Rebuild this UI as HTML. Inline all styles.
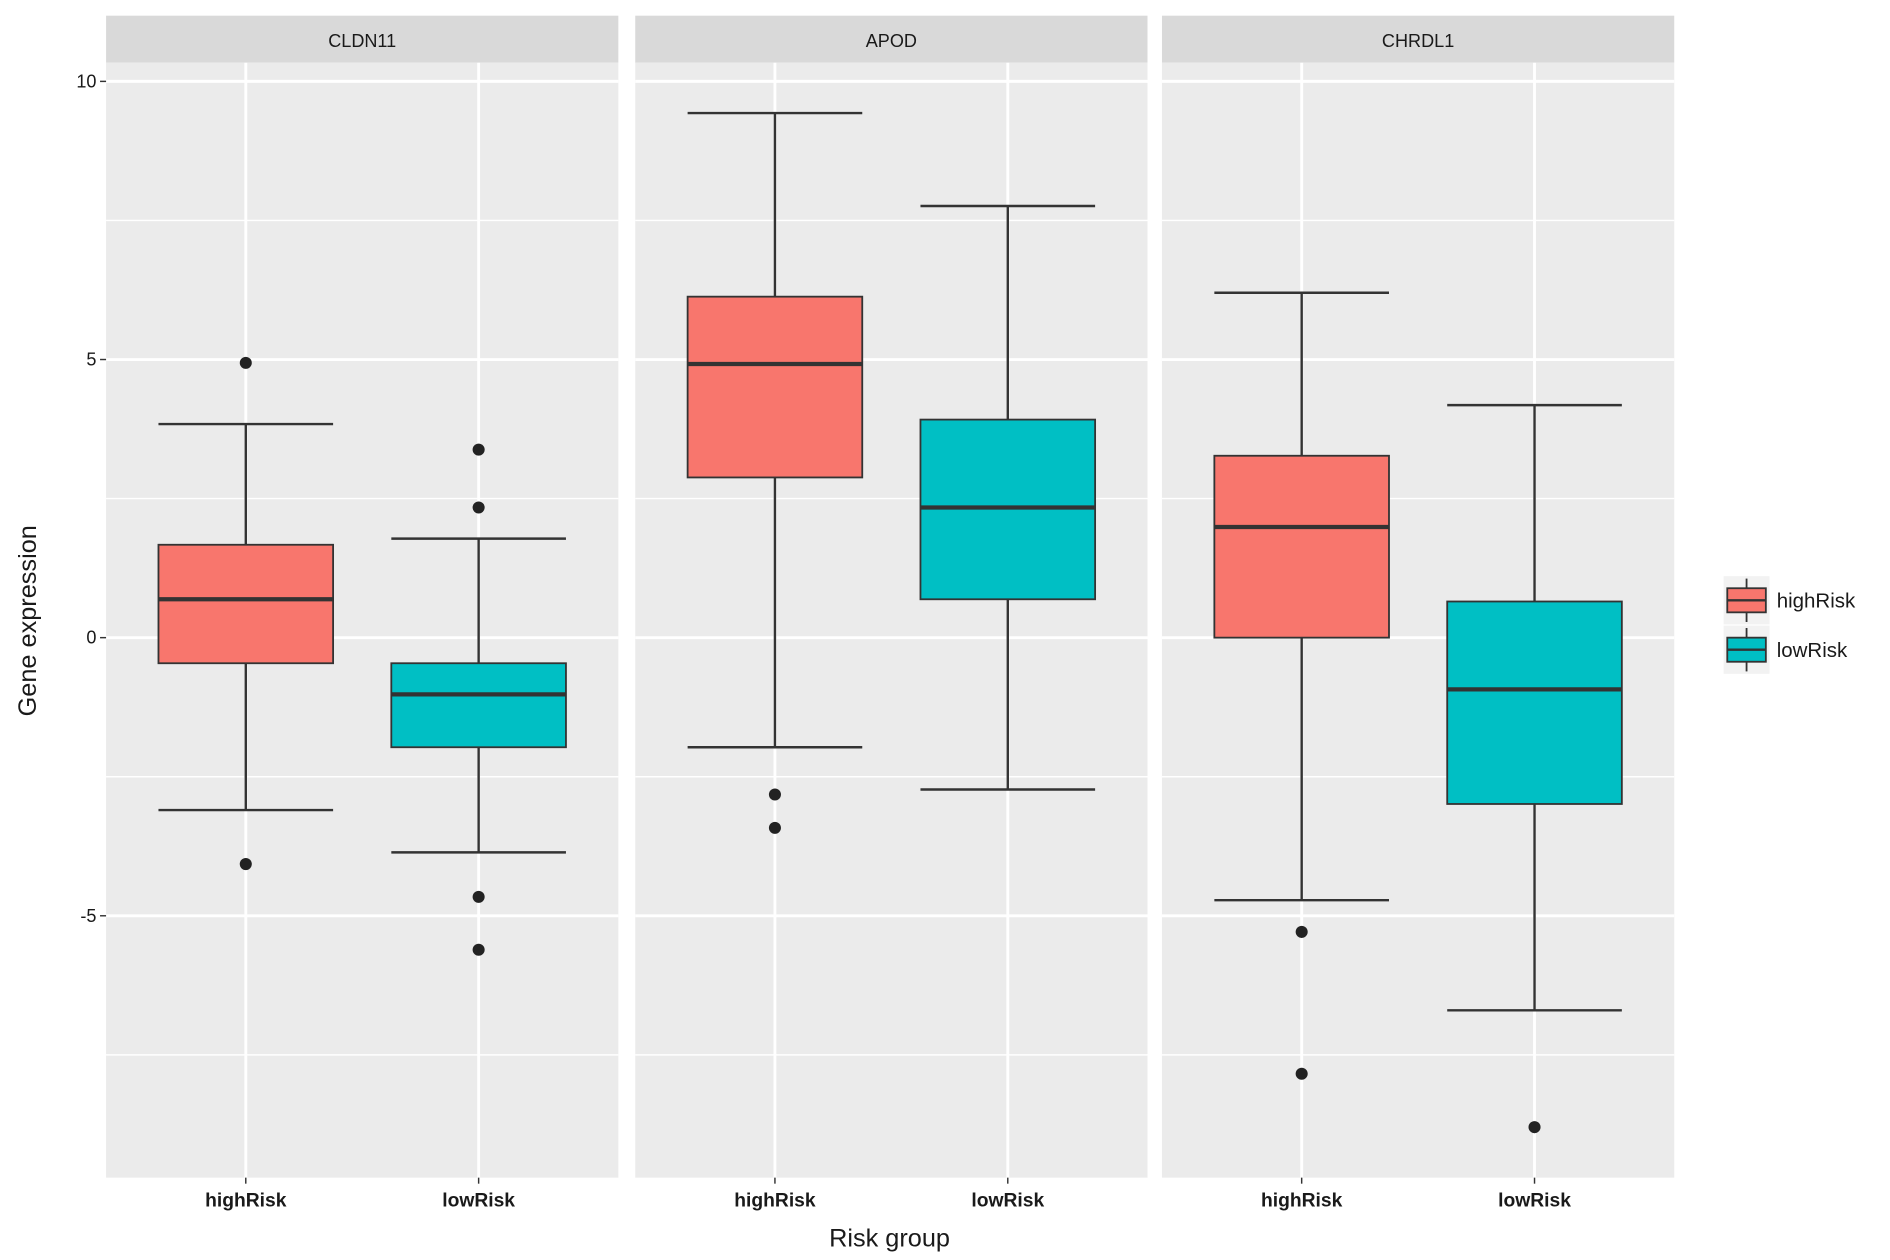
<!DOCTYPE html>
<html><head><meta charset="utf-8"><style>html,body{margin:0;padding:0;background:#fff}svg{display:block}</style></head>
<body>
<svg id="chart" width="1890" height="1260" viewBox="0 0 1568 1045.3" xmlns="http://www.w3.org/2000/svg" font-family="Liberation Sans, sans-serif"></svg>
<script>
const genes = ["CLDN11", "APOD", "CHRDL1"];
const groups = ["highRisk", "lowRisk"];
const colors = ["#F8766D", "#00BFC4"];
// [lowerWhisker, Q1, median, Q3, upperWhisker] per gene per group
const highRiskStats = [[-3.1, -0.46, 0.69, 1.67, 3.84], [-1.97, 2.88, 4.92, 6.13, 9.43], [-4.72, 0, 1.99, 3.27, 6.2]];
const lowRiskStats = [[-3.86, -1.97, -1.02, -0.46, 1.78], [-2.73, 0.69, 2.34, 3.92, 7.76], [-6.7, -2.99, -0.93, 0.65, 4.18]];
const highRiskOutliers = [[4.94, -4.07], [-2.82, -3.42], [-5.29, -7.84]];
const lowRiskOutliers = [[3.38, 2.34, -4.66, -5.61], [], [-8.8]];
const yTicks = [10, 5, 0, -5];
const yMinor = [7.5, 2.5, -2.5, -7.5];

const svg = document.getElementById('chart');
const NS = "http://www.w3.org/2000/svg";
function mk(tag, attrs, parent) { const e = document.createElementNS(NS, tag); for (const k in attrs) e.setAttribute(k, attrs[k]); (parent || svg).appendChild(e); return e; }
const panelX = [88, 527, 964], panelW = 425, plotTop = 52, plotBottom = 977;
function y(v) { return 529 - v * 46.15; }
function x(p, i) { return panelX[p] + panelW * (i + 1 - 0.4) / 2.2; }
const boxW = panelW / 2.2 * 0.75;
const stats = [highRiskStats, lowRiskStats];
const outs = [highRiskOutliers, lowRiskOutliers];

genes.forEach((g, p) => {
  const strip = mk('rect', { x: panelX[p], y: 13, width: panelW, height: 39, fill: '#D9D9D9' });
  
  
  const st = mk('text', { x: panelX[p] + panelW / 2, y: 39, 'text-anchor': 'middle', 'font-size': 15, fill: '#1A1A1A' });
  st.textContent = g;
  
  
  const bg = mk('rect', { x: panelX[p], y: plotTop, width: panelW, height: plotBottom - plotTop, fill: '#EBEBEB' });
  
  
  yMinor.forEach(v => mk('line', { x1: panelX[p], x2: panelX[p] + panelW, y1: y(v), y2: y(v), stroke: '#fff', 'stroke-width': 1.2 }));
  yTicks.forEach(v => mk('line', { x1: panelX[p], x2: panelX[p] + panelW, y1: y(v), y2: y(v), stroke: '#fff', 'stroke-width': 2.4 }));
  groups.forEach((gr, i) => {
    const cx = x(p, i);
    mk('line', { x1: cx, x2: cx, y1: plotTop, y2: plotBottom, stroke: '#fff', 'stroke-width': 2.4 });
  });
  groups.forEach((gr, i) => {
    const cx = x(p, i), s = stats[i][p];
    const grp = mk('g', {});
    
    
    mk('line', { x1: cx, x2: cx, y1: y(s[4]), y2: y(s[3]), stroke: '#333', 'stroke-width': 2 }, grp);
    mk('line', { x1: cx, x2: cx, y1: y(s[1]), y2: y(s[0]), stroke: '#333', 'stroke-width': 2 }, grp);
    mk('line', { x1: cx - boxW / 2, x2: cx + boxW / 2, y1: y(s[4]), y2: y(s[4]), stroke: '#333', 'stroke-width': 2 }, grp);
    mk('line', { x1: cx - boxW / 2, x2: cx + boxW / 2, y1: y(s[0]), y2: y(s[0]), stroke: '#333', 'stroke-width': 2 }, grp);
    mk('rect', { x: cx - boxW / 2, y: y(s[3]), width: boxW, height: y(s[1]) - y(s[3]), fill: colors[i], stroke: '#333', 'stroke-width': 1.5 }, grp);
    mk('line', { x1: cx - boxW / 2, x2: cx + boxW / 2, y1: y(s[2]), y2: y(s[2]), stroke: '#333', 'stroke-width': 3.5 }, grp);
    outs[i][p].forEach(v => {
      const c = mk('circle', { cx: cx, cy: y(v), r: 5, fill: '#222' });
      
      
    });
    mk('line', { x1: cx, x2: cx, y1: plotBottom, y2: plotBottom + 5, stroke: '#333', 'stroke-width': 1.2 });
    const t = mk('text', { x: cx, y: 1001, 'text-anchor': 'middle', 'font-size': 16, 'font-weight': 'bold', fill: '#1A1A1A' });
    t.textContent = gr;
    
    
  });
});
yTicks.forEach(v => {
  mk('line', { x1: 83, x2: 88, y1: y(v), y2: y(v), stroke: '#333', 'stroke-width': 1.2 });
  const t = mk('text', { x: 80, y: y(v) + 5, 'text-anchor': 'end', 'font-size': 15, fill: '#1A1A1A' });
  t.textContent = v;
  
  
});
const xt = mk('text', { x: 738, y: 1034, 'text-anchor': 'middle', 'font-size': 21, fill: '#1A1A1A' });
xt.textContent = 'Risk group';


const yt = mk('text', { x: 0, y: 0, 'text-anchor': 'middle', 'font-size': 21, fill: '#1A1A1A', transform: 'translate(30,515) rotate(-90)' });
yt.textContent = 'Gene expression';


groups.forEach((gr, i) => {
  const ly = 498 + i * 41;
  const lg = mk('g', {});
  
  
  mk('rect', { x: 1430, y: ly - 20, width: 38, height: 40, fill: '#F2F2F2' }, lg);
  mk('line', { x1: 1449, x2: 1449, y1: ly - 18, y2: ly + 18, stroke: '#333', 'stroke-width': 1.5 }, lg);
  mk('rect', { x: 1433, y: ly - 10, width: 32, height: 20, fill: colors[i], stroke: '#333', 'stroke-width': 1.5 }, lg);
  mk('line', { x1: 1433, x2: 1465, y1: ly, y2: ly, stroke: '#333', 'stroke-width': 2 }, lg);
  const t = mk('text', { x: 1474, y: ly + 6, 'font-size': 17, fill: '#1A1A1A' }, lg);
  t.textContent = gr;
});
</script>
</body></html>
